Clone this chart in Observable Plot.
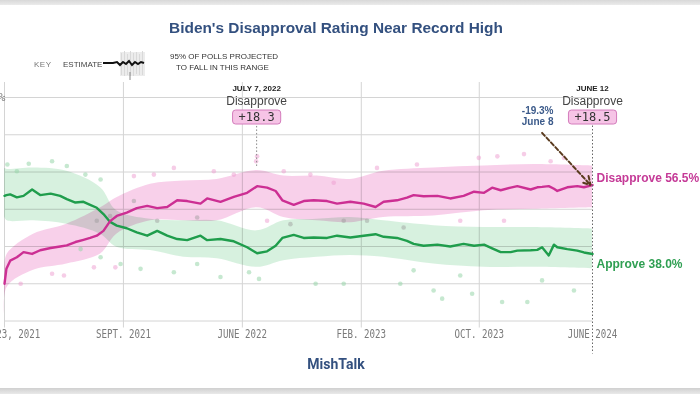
<!DOCTYPE html>
<html>
<head>
<meta charset="utf-8">
<script src="https://cdn.jsdelivr.net/npm/d3@7"></script>
<script src="https://cdn.jsdelivr.net/npm/@observablehq/plot@0.6"></script>
<style>
  html, body { margin: 0; padding: 0; }
  body { width: 700px; height: 394px; position: relative; overflow: hidden; background: #fff; font-family: "Liberation Sans", Arial, sans-serif; }
  .band-top { position: absolute; left: 0; top: 0; width: 700px; height: 5px; background: linear-gradient(#d8d8d8, #ebebeb); }
  .band-bottom { position: absolute; left: 0; top: 388px; width: 700px; height: 6px; background: linear-gradient(#d0d0d0, #e9e9e9); }
  #chart { position: absolute; left: 0; top: 0; }
  .title { position: absolute; left: 0; top: 19px; width: 672px; text-align: center; font-weight: bold; font-size: 15.4px; color: #33507f; }
  .key { position: absolute; font-size: 8px; color: #555; white-space: nowrap; }
  .caption { position: absolute; left: 0; top: 356px; width: 672px; text-align: center; font-family: Roboto, "Liberation Sans", sans-serif; font-weight: bold; font-size: 14px; color: #33507f; }
</style>
</head>
<body>
<div class="band-top"></div>
<div id="chart"></div>
<div class="title">Biden's Disapproval Rating Near Record High</div>
<div class="key" style="left:34px;top:60px;color:#777;letter-spacing:0.5px">KEY</div>
<div class="key" style="left:63px;top:60px;color:#444">ESTIMATE</div>
<svg class="key" style="left:100px;top:48px" width="50" height="36" viewBox="0 0 50 36">
  <g fill="#d9d9d9">
    <rect x="20" y="4" width="25" height="24" fill="#ececec"/>
    <rect x="21" y="5" width="1" height="22"/><rect x="24" y="3" width="1" height="25"/><rect x="27" y="6" width="1" height="21"/><rect x="30" y="3" width="1" height="25"/>
    <rect x="33" y="5" width="1" height="23"/><rect x="36" y="4" width="1" height="22"/><rect x="39" y="6" width="1" height="21"/><rect x="42" y="3" width="1" height="24"/>
  </g>
  <path d="M3 15 L13 15 L17 14 L20 17 L23 14 L26 16 L29 13 L32 17 L35 14 L38 16 L41 14 L44 15" fill="none" stroke="#111" stroke-width="2"/>
  <line x1="30" y1="24" x2="30" y2="32" stroke="#888" stroke-width="1"/>
</svg>
<div class="key" style="left:170px;top:52px;color:#333">95% OF POLLS PROJECTED</div>
<div class="key" style="left:176px;top:63px;color:#333">TO FALL IN THIS RANGE</div>
<div class="caption">MishTalk</div>
<div class="band-bottom"></div>
<script>
// ---- trend estimates (percent) ----
const dates = ["2021-01-23","2021-01-27","2021-02-04","2021-02-18","2021-03-04","2021-03-22","2021-04-08","2021-04-30","2021-05-20","2021-06-03","2021-06-21","2021-07-08","2021-07-22","2021-08-05","2021-08-19","2021-09-02","2021-09-16","2021-10-07","2021-10-28","2021-11-19","2021-12-10","2021-12-31","2022-01-21","2022-02-11","2022-03-11","2022-03-25","2022-04-22","2022-05-20","2022-06-17","2022-07-08","2022-07-29","2022-08-16","2022-08-30","2022-09-23","2022-10-14","2022-11-04","2022-12-02","2022-12-23","2023-01-20","2023-02-17","2023-03-14","2023-03-31","2023-04-28","2023-05-19","2023-06-02","2023-06-23","2023-07-22","2023-08-18","2023-09-15","2023-10-07","2023-10-28","2023-11-14","2023-12-02","2023-12-23","2024-01-06","2024-02-03","2024-02-17","2024-02-27","2024-03-12","2024-03-23","2024-03-30","2024-04-20","2024-05-11","2024-05-25","2024-06-12"];
const approve = [53.6,53.8,54.0,53.2,53.6,55.3,53.8,54.2,53.6,52.7,51.8,52.0,51.2,50.4,48.7,46.6,45.6,44.9,43.8,42.9,44.2,42.9,42.0,41.7,42.9,41.7,42.0,41.4,39.8,38.2,38.7,40.2,42.3,43.1,42.3,42.4,42.3,42.9,42.4,42.9,43.3,42.6,42.3,41.5,40.7,40.2,40.5,40.0,40.7,40.2,40.5,39.5,38.5,38.5,38.9,39.0,39.1,39.8,37.6,40.5,39.8,39.3,38.9,38.4,38.0];
const disapprove = [30.0,34.0,36.2,37.1,38.5,38.0,39.0,39.6,40.0,40.3,41.2,41.8,42.3,42.9,44.2,46.8,48.2,49.1,50.3,50.9,50.3,50.6,52.4,52.2,51.5,52.9,52.0,53.3,54.4,56.2,55.8,54.9,52.4,51.2,52.2,52.4,52.2,51.5,52.0,51.5,50.6,52.0,52.4,53.1,53.8,53.5,53.6,52.9,53.6,54.7,54.4,55.8,55.1,55.8,56.2,55.3,55.9,56.0,56.2,55.5,54.9,55.9,56.2,55.9,56.5];

// ---- 95% poll ranges ----
const bandDates = ["2021-01-23","2021-01-29","2021-03-25","2021-06-03","2021-08-13","2021-09-16","2021-11-26","2022-02-04","2022-04-15","2022-07-08","2022-09-02","2022-11-11","2023-01-20","2023-03-31","2023-07-14","2023-10-28","2024-02-10","2024-06-12"];
const disHi = [34.0,38.0,43.3,46.0,50.4,53.1,56.7,57.6,58.0,60.4,58.9,58.9,58.0,60.2,61.1,61.6,62.0,61.6];
const disLo = [22.0,29.1,33.6,35.3,38.0,43.3,46.9,46.9,46.9,50.4,47.8,46.9,46.4,47.8,48.2,49.6,50.0,50.4];
const appHi = [61.0,60.7,61.1,60.2,55.8,49.6,47.3,46.9,46.9,44.2,46.9,47.3,47.8,46.9,45.6,45.1,45.1,44.7];
const appLo = [48.0,46.9,46.9,46.0,43.3,39.8,38.9,37.1,36.7,34.4,36.2,37.1,37.6,37.1,35.3,34.4,34.4,34.0];

// ---- individual polls outside the dense range ----
const pinkDotDates = ["2022-07-08","2022-07-06","2021-10-22","2021-12-03","2022-01-14","2022-04-08","2022-05-20","2022-09-02","2022-10-28","2022-12-16","2021-02-26","2021-05-03","2021-05-28","2021-07-30","2021-09-13","2022-07-29","2023-03-17","2023-06-09","2023-10-17","2023-11-25","2024-01-20","2024-03-16","2024-04-13","2023-12-09","2023-09-08"];
const pinkDotValues = [64.2,62.9,58.9,59.3,61.1,60.2,59.3,60.2,59.3,57.1,30.0,32.7,32.2,34.4,34.4,46.9,61.1,62.0,63.8,64.2,64.8,62.9,63.8,46.9,46.9];
const greenDotDates = ["2021-01-29","2021-02-18","2021-03-15","2021-05-03","2021-06-03","2021-07-12","2021-08-13","2021-07-02","2021-08-13","2021-09-24","2021-11-05","2022-01-14","2022-03-04","2022-04-22","2022-06-21","2022-07-12","2022-11-08","2023-01-06","2023-05-05","2023-06-02","2023-07-14","2023-08-01","2023-09-08","2023-10-03","2023-12-05","2024-01-27","2024-02-27","2024-05-04"];
const greenDotValues = [62.0,60.2,62.2,62.9,61.6,59.3,58.0,39.3,37.1,35.3,34.0,33.1,35.3,31.8,33.1,31.3,30.0,30.0,30.0,33.6,28.2,26.0,32.2,27.3,25.1,25.1,30.9,28.2];
const grayDotDates = ["2021-08-05","2021-09-02","2021-10-22","2021-12-10","2022-03-04","2022-09-16","2023-01-06","2023-02-24","2023-05-12"];
const grayDotValues = [46.9,48.2,52.2,46.9,47.8,46.0,46.9,46.9,45.1];

// ---- axis ----
const tickDates = ["2021-01-23","2021-09-30","2022-06-07","2023-02-12","2023-10-18","2024-06-12"];
const tickLabels = ["JAN. 23, 2021","SEPT. 2021","JUNE 2022","FEB. 2023","OCT. 2023","JUNE 2024"];
const yTicks = [20,30,40,50,60,70,80];
const yLabelTicks = [80];

// ---- annotations ----
const annoDates = ["2022-07-07","2024-06-12"];
const annoTitles = ["JULY 7, 2022","JUNE 12"];
const annoMargins = ["+18.3","+18.5"];
const endLabels = ["Disapprove 56.5%","Approve 38.0%"];
const endValues = [56.5, 38.0];
const arrowFrom = {date: "2024-02-27", value: 70.5};
const arrowTo = {date: "2024-06-08", value: 56.5};
const julyLeader = {y1: 61.5, y2: 73};

const P = s => new Date(s);
const start = P(dates[0]), end = P(dates[dates.length - 1]);
const trend = dates.map((d, i) => ({date: P(d), approve: approve[i], disapprove: disapprove[i]}));
const bands = bandDates.map((d, i) => ({date: P(d), disHi: disHi[i], disLo: disLo[i], appHi: appHi[i], appLo: appLo[i]}));
const pinkDots = pinkDotDates.map((d, i) => ({date: P(d), v: pinkDotValues[i]}));
const greenDots = greenDotDates.map((d, i) => ({date: P(d), v: greenDotValues[i]}));
const grayDots = grayDotDates.map((d, i) => ({date: P(d), v: grayDotValues[i]}));
const ticks = tickDates.map(P);

const MAG = "#cc2f93", GRN = "#1f9d4c";
const mono = "'DejaVu Sans Mono', 'Liberation Mono', monospace";
const sans = "'Liberation Sans', Arial, sans-serif";

const chart = Plot.plot({
  width: 700, height: 394,
  marginTop: 97, marginBottom: 73.5, marginLeft: 4, marginRight: 108,
  style: {background: "transparent", fontFamily: sans},
  x: {type: "utc", domain: [start, end], label: null},
  y: {domain: [20, 80], label: null},
  marks: [
    Plot.gridY(yTicks, {stroke: "#d4d4d4", strokeOpacity: 1}),
    Plot.ruleX(ticks.slice(0, 5), {stroke: "#d4d4d4", insetTop: -15, insetBottom: -7}),
    Plot.areaY(bands, {x: "date", y1: "disLo", y2: "disHi", curve: "catmull-rom", fill: "#f7cbe8", fillOpacity: 0.9, mixBlendMode: "multiply"}),
    Plot.areaY(bands, {x: "date", y1: "appLo", y2: "appHi", curve: "catmull-rom", fill: "#d3f0dc", fillOpacity: 0.9, mixBlendMode: "multiply"}),
    Plot.dot(pinkDots, {x: "date", y: "v", r: 2.3, fill: "#ee9cd0", fillOpacity: 0.5}),
    Plot.dot(greenDots, {x: "date", y: "v", r: 2.3, fill: "#98d6aa", fillOpacity: 0.55}),
    Plot.dot(grayDots, {x: "date", y: "v", r: 2.3, fill: "#999", fillOpacity: 0.45}),
    Plot.lineY(trend, {x: "date", y: "approve", stroke: GRN, strokeWidth: 2.4}),
    Plot.lineY(trend, {x: "date", y: "disapprove", stroke: MAG, strokeWidth: 2.4}),
    Plot.ruleX([end], {stroke: "#666", strokeDasharray: "1.5,2", insetTop: 25, insetBottom: -33}),
    Plot.ruleX([P(annoDates[0])], {y1: julyLeader.y1, y2: julyLeader.y2, stroke: "#888", strokeDasharray: "1.5,2"}),
    Plot.arrow([0], {x1: () => P(arrowFrom.date), y1: () => arrowFrom.value, x2: () => P(arrowTo.date), y2: () => arrowTo.value,
      stroke: "#5a3b1e", strokeWidth: 2, strokeDasharray: "4,2.5", headLength: 7}),
    Plot.text(annoDates, {x: P, text: (d, i) => annoTitles[i], frameAnchor: "top", dy: -12, fontWeight: "bold", fontSize: 8, fill: "#222"}),
    Plot.text(annoDates, {x: P, text: () => "Disapprove", frameAnchor: "top", dy: -1, fontSize: 12, fill: "#444"}),
    Plot.text(annoDates, {x: P, text: (d, i) => annoMargins[i], frameAnchor: "top", dy: 15, fontSize: 12, fontFamily: mono, fill: "#333"}),
    Plot.text(["-19.3%"], {x: () => end, text: d => d, frameAnchor: "top", dx: -39, dy: 9.5, textAnchor: "end", fontWeight: "bold", fontSize: 10, fill: "#3b5a8a"}),
    Plot.text(["June 8"], {x: () => end, text: d => d, frameAnchor: "top", dx: -39, dy: 20, textAnchor: "end", fontWeight: "bold", fontSize: 10, fill: "#3b5a8a"}),
    Plot.text([0], {x: () => end, y: () => endValues[0], text: () => endLabels[0], dx: 4, dy: -7, textAnchor: "start", fontWeight: "bold", fontSize: 12, fill: "#c53a97"}),
    Plot.text([1], {x: () => end, y: () => endValues[1], text: () => endLabels[1], dx: 4, dy: 10.5, textAnchor: "start", fontWeight: "bold", fontSize: 12, fill: "#2f9f52"}),
    Plot.axisX({ticks, tickFormat: d => tickLabels[ticks.findIndex(t => +t === +d)], tickSize: 0, tickPadding: 8, fontFamily: mono, fontSize: 12, fill: "#7a7a7a", label: null}),
    Plot.axisY({ticks: yLabelTicks, tickFormat: d => d + "%", tickSize: 0, tickPadding: 0, textAnchor: "start", dx: -19, fontFamily: mono, fontSize: 11, fill: "#777", label: null})
  ]
});
document.getElementById("chart").append(chart);

// squeeze the condensed mono tick labels
chart.querySelectorAll('g[aria-label="x-axis tick label"] text').forEach(t => {
  t.setAttribute("textLength", t.textContent.length * 5.5);
  t.setAttribute("lengthAdjust", "spacingAndGlyphs");
});
// pink boxes behind the margin labels
const ns = "http://www.w3.org/2000/svg";
chart.querySelectorAll("text").forEach(t => {
  if (!annoMargins.includes(t.textContent)) return;
  const b = t.getBBox();
  const r = document.createElementNS(ns, "rect");
  r.setAttribute("x", b.x - 6); r.setAttribute("y", b.y);
  r.setAttribute("width", b.width + 12); r.setAttribute("height", b.height);
  r.setAttribute("rx", 3); r.setAttribute("fill", "#f6c4e6"); r.setAttribute("stroke", "#d47cbc"); r.setAttribute("stroke-width", 1);
  if (t.getAttribute("transform")) r.setAttribute("transform", t.getAttribute("transform"));
  t.parentNode.insertBefore(r, t);
});
</script>
</body>
</html>
